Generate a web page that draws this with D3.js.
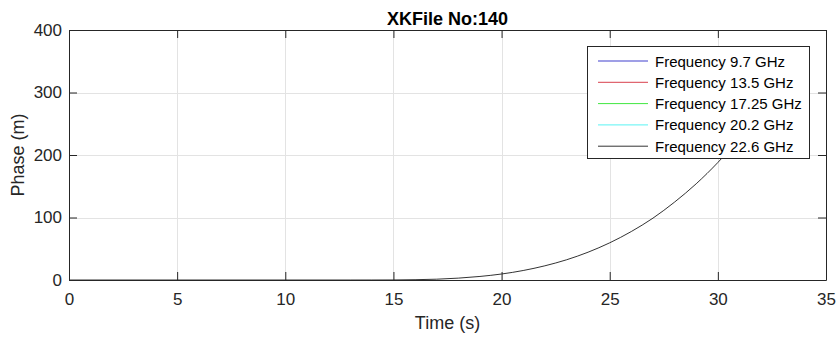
<!DOCTYPE html>
<html>
<head>
<meta charset="utf-8">
<script src="https://cdn.jsdelivr.net/npm/d3@7/dist/d3.min.js"></script>
<style>
  html, body { margin: 0; padding: 0; background: #fff; }
  svg { display: block; font-family: Arial, "Liberation Sans", sans-serif; }
</style>
</head>
<body>
<svg id="chart" width="839" height="337"></svg>
<script>
// Phase growth over time; only the 22.6 GHz channel has samples in this file
const timeS = [0, 5, 10, 13, 14, 15, 16, 17, 18, 19, 20, 21, 22, 23, 24, 25, 26, 27, 28, 29, 30, 31, 31.5];
const phase9_7 = [];
const phase13_5 = [];
const phase17_25 = [];
const phase20_2 = [];
const phase22_6 = [0, 0, 0, 0, 0.01, 0.1, 0.5, 1.3, 3.0, 5.7, 9.6, 15.2, 22.7, 32.3, 44.5, 59.5, 77.6, 99, 124.7, 154, 188, 227, 248];

const seriesNames = ["Frequency 9.7 GHz", "Frequency 13.5 GHz", "Frequency 17.25 GHz", "Frequency 20.2 GHz", "Frequency 22.6 GHz"];
const seriesColors = ["#1010c0", "#d01020", "#10e010", "#30f0f0", "#000000"];
const seriesValues = [phase9_7, phase13_5, phase17_25, phase20_2, phase22_6];

const xTicks = [0, 5, 10, 15, 20, 25, 30, 35];
const yTicks = [0, 100, 200, 300, 400];

const svg = d3.select("#chart");
const plotL = 69, plotR = 826, plotT = 30, plotB = 280;
const axisColor = "#262626";

const x = d3.scaleLinear().domain([0, 35]).range([plotL, plotR]);
const y = d3.scaleLinear().domain([0, 400]).range([plotB, plotT]);

// grid
const grid = svg.append("g").attr("stroke", "#e3e3e3").attr("stroke-width", 1);
xTicks.slice(1, -1).forEach(t => grid.append("line")
  .attr("x1", Math.round(x(t)) + 0.5).attr("x2", Math.round(x(t)) + 0.5)
  .attr("y1", plotT).attr("y2", plotB));
yTicks.slice(1, -1).forEach(t => grid.append("line")
  .attr("y1", Math.round(y(t)) + 0.5).attr("y2", Math.round(y(t)) + 0.5)
  .attr("x1", plotL).attr("x2", plotR));

// clip for series
svg.append("clipPath").attr("id", "plotClip").append("rect")
  .attr("x", plotL).attr("y", plotT).attr("width", plotR - plotL).attr("height", plotB - plotT);

const line = d3.line().x(d => x(d[0])).y(d => y(d[1])).curve(d3.curveMonotoneX);
const lines = svg.append("g").attr("clip-path", "url(#plotClip)");
seriesValues.forEach((vals, i) => {
  if (!vals.length) return;
  lines.append("path")
    .datum(vals.map((v, k) => [timeS[k], v]))
    .attr("d", line)
    .attr("fill", "none")
    .attr("stroke", seriesColors[i])
    .attr("stroke-opacity", 0.8)
    .attr("stroke-width", 1);
});

// axes with inward ticks on all four sides
const tickLen = 8;
const fmt = d3.format("d");
const xb = svg.append("g").attr("transform", `translate(0,${plotB})`)
  .call(d3.axisBottom(x).tickValues(xTicks).tickFormat(fmt).tickSizeInner(-tickLen).tickSizeOuter(0).tickPadding(13));
const xt = svg.append("g").attr("transform", `translate(0,${plotT})`)
  .call(d3.axisTop(x).tickValues(xTicks).tickFormat("").tickSizeInner(-tickLen).tickSizeOuter(0));
const yl = svg.append("g").attr("transform", `translate(${plotL},0)`)
  .call(d3.axisLeft(y).tickValues(yTicks).tickFormat(fmt).tickSizeInner(-tickLen).tickSizeOuter(0).tickPadding(7));
const yr = svg.append("g").attr("transform", `translate(${plotR},0)`)
  .call(d3.axisRight(y).tickValues(yTicks).tickFormat("").tickSizeInner(-tickLen).tickSizeOuter(0));

[xb, xt, yl, yr].forEach(g => {
  g.select(".domain").attr("stroke", axisColor).attr("stroke-width", 1);
  g.selectAll(".tick line").attr("stroke", axisColor);
  g.selectAll(".tick text").attr("fill", axisColor).attr("font-size", 17)
    .attr("font-family", "Arial, 'Liberation Sans', sans-serif");
});

// axis labels and title
svg.append("text").attr("x", (plotL + plotR) / 2).attr("y", 329)
  .attr("text-anchor", "middle").attr("font-size", 18).attr("fill", axisColor).text("Time (s)");
svg.append("text").attr("transform", `translate(24,${(plotT + plotB) / 2}) rotate(-90)`)
  .attr("text-anchor", "middle").attr("font-size", 18).attr("fill", axisColor).text("Phase (m)");
svg.append("text").attr("x", (plotL + plotR) / 2).attr("y", 25)
  .attr("text-anchor", "middle").attr("font-size", 18).attr("font-weight", "bold").attr("fill", "#000").text("XKFile No:140");

// legend
const lg = svg.append("g").attr("transform", "translate(587,46)");
lg.append("rect").attr("x", 0.5).attr("y", 0.5).attr("width", 222).attr("height", 112)
  .attr("fill", "#fff").attr("stroke", axisColor).attr("stroke-width", 1);
seriesNames.forEach((name, i) => {
  const yy = 15 + i * 21.3;
  lg.append("line").attr("x1", 11).attr("x2", 61).attr("y1", yy).attr("y2", yy)
    .attr("stroke", seriesColors[i]).attr("stroke-opacity", 0.8).attr("stroke-width", 1);
  lg.append("text").attr("x", 68).attr("y", yy + 5.5).attr("font-size", 15).attr("fill", "#000").text(name);
});
</script>
</body>
</html>
